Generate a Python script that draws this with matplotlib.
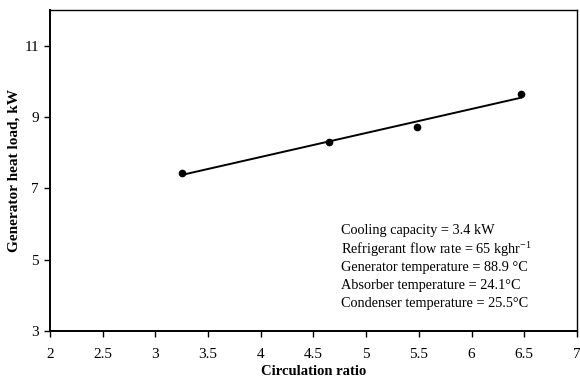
import numpy as np
import matplotlib
matplotlib.use('Agg')
import matplotlib.pyplot as plt

plt.rcParams['font.family'] = 'Liberation Serif'
plt.rcParams['mathtext.fontset'] = 'custom'
plt.rcParams['mathtext.rm'] = 'Liberation Serif'

# circulation ratio vs generator heat load
circ_ratio = [3.25, 4.65, 5.48, 6.47]
heat_load = [7.43, 8.30, 8.73, 9.65]

notes = ['Cooling capacity = 3.4 kW',
         r'Refrigerant flow rate = 65 kghr$^{\mathregular{-1}}$',
         'Generator temperature = 88.9 \u00b0C',
         'Absorber temperature = 24.1\u00b0C',
         'Condenser temperature = 25.5\u00b0C']

fig = plt.figure(figsize=(5.8, 3.79), dpi=100)
ax = fig.add_axes([0.0862, 0.1266, 0.9086, 0.847])

ax.plot(circ_ratio, heat_load, 'o', color='black', markersize=4.5)

# linear trend line over the data range
k, b = np.polyfit(circ_ratio, heat_load, 1)
xs = np.array([min(circ_ratio), max(circ_ratio)])
ax.plot(xs, k * xs + b, color='black', linewidth=1.4)

ax.set_xlim(2, 7)
ax.set_ylim(3, 12)
ax.set_xticks(np.arange(2, 7.01, 0.5))
ax.set_xticklabels(['2', '2.5', '3', '3.5', '4', '4.5', '5', '5.5', '6', '6.5', '7'])
ax.set_yticks([3, 5, 7, 9, 11])
ax.tick_params(direction='out', length=4, width=1, labelsize=11)
ax.tick_params(axis='x', pad=8)
ax.tick_params(axis='y', pad=4)
for s in ax.spines.values():
    s.set_linewidth(1)
ax.spines['left'].set_linewidth(1.4)
ax.spines['bottom'].set_linewidth(1.4)

ax.set_xlabel('Circulation ratio', fontweight='bold', fontsize=10.5, labelpad=3)
ax.set_ylabel('Generator heat load, kW', fontweight='bold', fontsize=11, labelpad=3)

for i, t in enumerate(notes):
    ax.text(0.552, 0.313 - i * 0.057, t, transform=ax.transAxes, fontsize=10.3,
            va='center', ha='left')

fig.savefig('out.png', dpi=100)
